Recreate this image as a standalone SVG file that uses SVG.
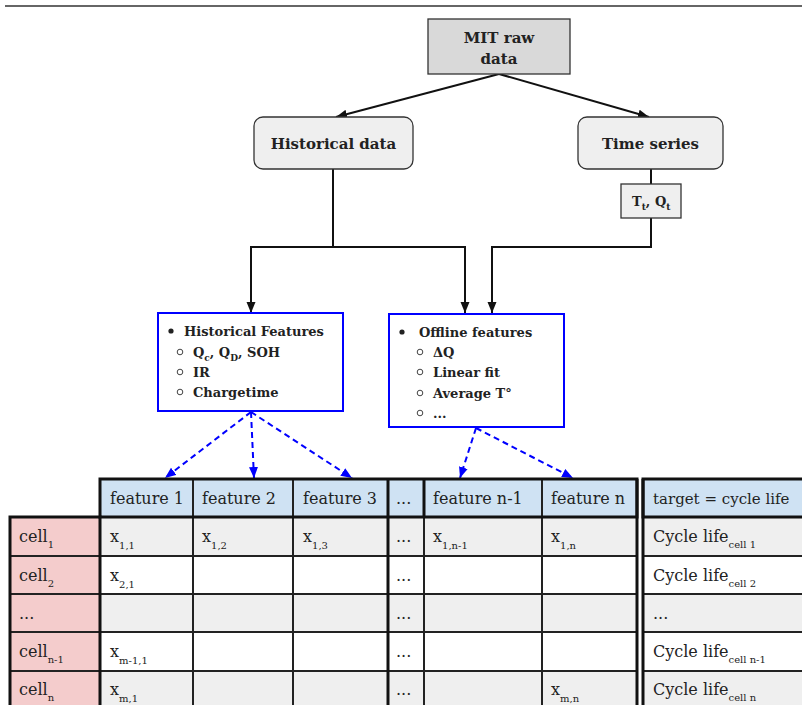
<svg xmlns="http://www.w3.org/2000/svg" width="802" height="705" viewBox="0 0 802 705">
<defs>
<marker id="ak" markerUnits="userSpaceOnUse" markerWidth="12" markerHeight="10" refX="11" refY="5" orient="auto"><path d="M0,0.5 L11,5 L0,9.5 z" fill="#111"/></marker>
<marker id="ab" markerUnits="userSpaceOnUse" markerWidth="12" markerHeight="10" refX="11" refY="5" orient="auto"><path d="M0,0.5 L11,5 L0,9.5 z" fill="#0000ff"/></marker>
<style>
.t{font-family:"DejaVu Serif","Liberation Serif",serif;fill:#222}
.b{font-weight:bold}
.tb{font-size:16px}
.sub{font-size:10px}
.k{fill:none;stroke:#111;stroke-width:2}
.bl{fill:none;stroke:#0000ff;stroke-width:2;stroke-dasharray:6,4}
.g{fill:#efefef}
.w{fill:#ffffff}
.h{fill:#cfe2f3}
.p{fill:#f4cccc}
.c{stroke:#222;stroke-width:2}
.fb{fill:#ffffff;stroke:#0000ff;stroke-width:2}
</style>
</defs>
<rect width="802" height="705" fill="#ffffff"/>
<line x1="5" y1="6" x2="802" y2="6" stroke="#333" stroke-width="1.3"/>

<g id="connectors">
<line class="k" x1="499" y1="74" x2="336" y2="117" marker-end="url(#ak)"/>
<line class="k" x1="499" y1="74" x2="649" y2="117" marker-end="url(#ak)"/>
<polyline class="k" points="333,169 333,247 251,247 251,313" marker-end="url(#ak)"/>
<polyline class="k" points="333,247 465,247 465,313" marker-end="url(#ak)"/>
<line class="k" x1="651" y1="169" x2="651" y2="184"/>
<polyline class="k" points="651,218 651,247 492,247 492,313" marker-end="url(#ak)"/>
<line class="bl" x1="251" y1="412" x2="165" y2="478" marker-end="url(#ab)"/>
<line class="bl" x1="251" y1="412" x2="254" y2="478" marker-end="url(#ab)"/>
<line class="bl" x1="251" y1="412" x2="352" y2="478" marker-end="url(#ab)"/>
<line class="bl" x1="476" y1="428" x2="460" y2="478" marker-end="url(#ab)"/>
<line class="bl" x1="476" y1="428" x2="573" y2="478" marker-end="url(#ab)"/>
</g>

<g id="mit">
<rect x="428" y="19" width="142" height="55" fill="#d9d9d9" stroke="#333" stroke-width="1.3"/>
<text class="t b" x="499" y="43" font-size="15" text-anchor="middle">MIT raw</text>
<text class="t b" x="499" y="64" font-size="15" text-anchor="middle">data</text>
</g>

<g id="historical-data">
<rect x="254" y="117" width="159" height="52" rx="9" fill="#efefef" stroke="#333" stroke-width="1.3"/>
<text class="t b" x="333.5" y="149" font-size="15" text-anchor="middle">Historical data</text>
</g>

<g id="time-series">
<rect x="578" y="117" width="145" height="52" rx="9" fill="#efefef" stroke="#333" stroke-width="1.3"/>
<text class="t b" x="650.5" y="149" font-size="15" text-anchor="middle">Time series</text>
</g>

<g id="tq">
<rect x="621" y="184" width="60" height="34" fill="#efefef" stroke="#333" stroke-width="1.3"/>
<text class="t b" x="632" y="206" font-size="13">T<tspan dy="4" font-size="9">t</tspan><tspan dy="-4">, Q</tspan><tspan dy="4" font-size="9">t</tspan></text>
</g>

<g id="historical-features">
<rect class="fb" x="158" y="313" width="185" height="98"/>
<circle cx="171" cy="331" r="2.6" fill="#222"/>
<text class="t b" x="184" y="336" font-size="13">Historical Features</text>
<circle cx="180" cy="352" r="2.8" fill="none" stroke="#444" stroke-width="1"/>
<text class="t b" x="193" y="357" font-size="13">Q<tspan dy="4" font-size="9">c</tspan><tspan dy="-4">, Q</tspan><tspan dy="4" font-size="9">D</tspan><tspan dy="-4">, SOH</tspan></text>
<circle cx="180" cy="372" r="2.8" fill="none" stroke="#444" stroke-width="1"/>
<text class="t b" x="193" y="377" font-size="13">IR</text>
<circle cx="180" cy="392" r="2.8" fill="none" stroke="#444" stroke-width="1"/>
<text class="t b" x="193" y="397" font-size="13">Chargetime</text>
</g>

<g id="offline-features">
<rect class="fb" x="389" y="314" width="175" height="113"/>
<circle cx="402" cy="332" r="2.6" fill="#222"/>
<text class="t b" x="419" y="337" font-size="13">Offline features</text>
<circle cx="420" cy="352" r="2.8" fill="none" stroke="#444" stroke-width="1"/>
<text class="t b" x="433" y="357" font-size="13">ΔQ</text>
<circle cx="420" cy="372" r="2.8" fill="none" stroke="#444" stroke-width="1"/>
<text class="t b" x="433" y="377" font-size="13">Linear fit</text>
<circle cx="420" cy="393" r="2.8" fill="none" stroke="#444" stroke-width="1"/>
<text class="t b" x="433" y="398" font-size="13">Average T°</text>
<circle cx="420" cy="413" r="2.8" fill="none" stroke="#444" stroke-width="1"/>
<text class="t b" x="433" y="418" font-size="13">...</text>
</g>

<g id="table">
<!-- header -->
<rect class="h c" x="100" y="479" width="93" height="38"/>
<rect class="h c" x="193" y="479" width="100" height="38"/>
<rect class="h c" x="293" y="479" width="95" height="38"/>
<rect class="h c" x="388" y="479" width="36" height="38"/>
<rect class="h c" x="424" y="479" width="118" height="38"/>
<rect class="h c" x="542" y="479" width="95" height="38"/>
<rect class="h c" x="643" y="479" width="170" height="38"/>
<text class="t tb" x="110" y="504">feature 1</text>
<text class="t tb" x="202" y="504">feature 2</text>
<text class="t tb" x="303" y="504">feature 3</text>
<text class="t tb" x="396" y="504">...</text>
<text class="t tb" x="433" y="504">feature n-1</text>
<text class="t tb" x="551" y="504">feature n</text>
<text class="t" x="653" y="504" font-size="15">target = cycle life</text>

<!-- rows: y tops 517,556,594,632,671 -->
<g id="row1">
<rect class="p c" x="10" y="517" width="90" height="39"/>
<rect class="g c" x="100" y="517" width="93" height="39"/>
<rect class="g c" x="193" y="517" width="100" height="39"/>
<rect class="g c" x="293" y="517" width="95" height="39"/>
<rect class="g c" x="388" y="517" width="36" height="39"/>
<rect class="g c" x="424" y="517" width="118" height="39"/>
<rect class="g c" x="542" y="517" width="95" height="39"/>
<rect class="g c" x="643" y="517" width="170" height="39"/>
<text class="t tb" x="19" y="542">cell<tspan class="sub" dy="6">1</tspan></text>
<text class="t tb" x="110" y="542">x<tspan class="sub" dy="7">1,1</tspan></text>
<text class="t tb" x="202" y="542">x<tspan class="sub" dy="7">1,2</tspan></text>
<text class="t tb" x="303" y="542">x<tspan class="sub" dy="7">1,3</tspan></text>
<text class="t tb" x="396" y="542">...</text>
<text class="t tb" x="433" y="542">x<tspan class="sub" dy="7">1,n-1</tspan></text>
<text class="t tb" x="551" y="542">x<tspan class="sub" dy="7">1,n</tspan></text>
<text class="t tb" x="653" y="542">Cycle life<tspan class="sub" dy="6">cell 1</tspan></text>
</g>
<g id="row2">
<rect class="p c" x="10" y="556" width="90" height="38"/>
<rect class="w c" x="100" y="556" width="93" height="38"/>
<rect class="w c" x="193" y="556" width="100" height="38"/>
<rect class="w c" x="293" y="556" width="95" height="38"/>
<rect class="w c" x="388" y="556" width="36" height="38"/>
<rect class="w c" x="424" y="556" width="118" height="38"/>
<rect class="w c" x="542" y="556" width="95" height="38"/>
<rect class="w c" x="643" y="556" width="170" height="38"/>
<text class="t tb" x="19" y="581">cell<tspan class="sub" dy="6">2</tspan></text>
<text class="t tb" x="110" y="581">x<tspan class="sub" dy="7">2,1</tspan></text>
<text class="t tb" x="396" y="581">...</text>
<text class="t tb" x="653" y="581">Cycle life<tspan class="sub" dy="6">cell 2</tspan></text>
</g>
<g id="row3">
<rect class="p c" x="10" y="594" width="90" height="38"/>
<rect class="g c" x="100" y="594" width="93" height="38"/>
<rect class="g c" x="193" y="594" width="100" height="38"/>
<rect class="g c" x="293" y="594" width="95" height="38"/>
<rect class="g c" x="388" y="594" width="36" height="38"/>
<rect class="g c" x="424" y="594" width="118" height="38"/>
<rect class="g c" x="542" y="594" width="95" height="38"/>
<rect class="g c" x="643" y="594" width="170" height="38"/>
<text class="t tb" x="19" y="619">...</text>
<text class="t tb" x="396" y="619">...</text>
<text class="t tb" x="653" y="619">...</text>
</g>
<g id="row4">
<rect class="p c" x="10" y="632" width="90" height="39"/>
<rect class="w c" x="100" y="632" width="93" height="39"/>
<rect class="w c" x="193" y="632" width="100" height="39"/>
<rect class="w c" x="293" y="632" width="95" height="39"/>
<rect class="w c" x="388" y="632" width="36" height="39"/>
<rect class="w c" x="424" y="632" width="118" height="39"/>
<rect class="w c" x="542" y="632" width="95" height="39"/>
<rect class="w c" x="643" y="632" width="170" height="39"/>
<text class="t tb" x="19" y="657">cell<tspan class="sub" dy="6">n-1</tspan></text>
<text class="t tb" x="110" y="657">x<tspan class="sub" dy="7">m-1,1</tspan></text>
<text class="t tb" x="396" y="657">...</text>
<text class="t tb" x="653" y="657">Cycle life<tspan class="sub" dy="6">cell n-1</tspan></text>
</g>
<g id="row5">
<rect class="p c" x="10" y="671" width="90" height="40"/>
<rect class="g c" x="100" y="671" width="93" height="40"/>
<rect class="g c" x="193" y="671" width="100" height="40"/>
<rect class="g c" x="293" y="671" width="95" height="40"/>
<rect class="g c" x="388" y="671" width="36" height="40"/>
<rect class="g c" x="424" y="671" width="118" height="40"/>
<rect class="g c" x="542" y="671" width="95" height="40"/>
<rect class="g c" x="643" y="671" width="170" height="40"/>
<text class="t tb" x="19" y="695">cell<tspan class="sub" dy="6">n</tspan></text>
<text class="t tb" x="110" y="695">x<tspan class="sub" dy="7">m,1</tspan></text>
<text class="t tb" x="396" y="695">...</text>
<text class="t tb" x="551" y="695">x<tspan class="sub" dy="7">m,n</tspan></text>
<text class="t tb" x="653" y="695">Cycle life<tspan class="sub" dy="6">cell n</tspan></text>
</g>
<!-- thick outlines -->
<rect x="100" y="479" width="537" height="38" fill="none" stroke="#111" stroke-width="3"/>
<rect x="643" y="479" width="170" height="38" fill="none" stroke="#111" stroke-width="3"/>
<rect x="10" y="517" width="90" height="194" fill="none" stroke="#111" stroke-width="3"/>
<line x1="388" y1="479" x2="388" y2="711" stroke="#111" stroke-width="3"/>
<line x1="424" y1="479" x2="424" y2="517" stroke="#111" stroke-width="3"/>
<line x1="637" y1="479" x2="637" y2="711" stroke="#111" stroke-width="3"/>
<line x1="643" y1="479" x2="643" y2="711" stroke="#111" stroke-width="3"/>
</g>
</svg>
